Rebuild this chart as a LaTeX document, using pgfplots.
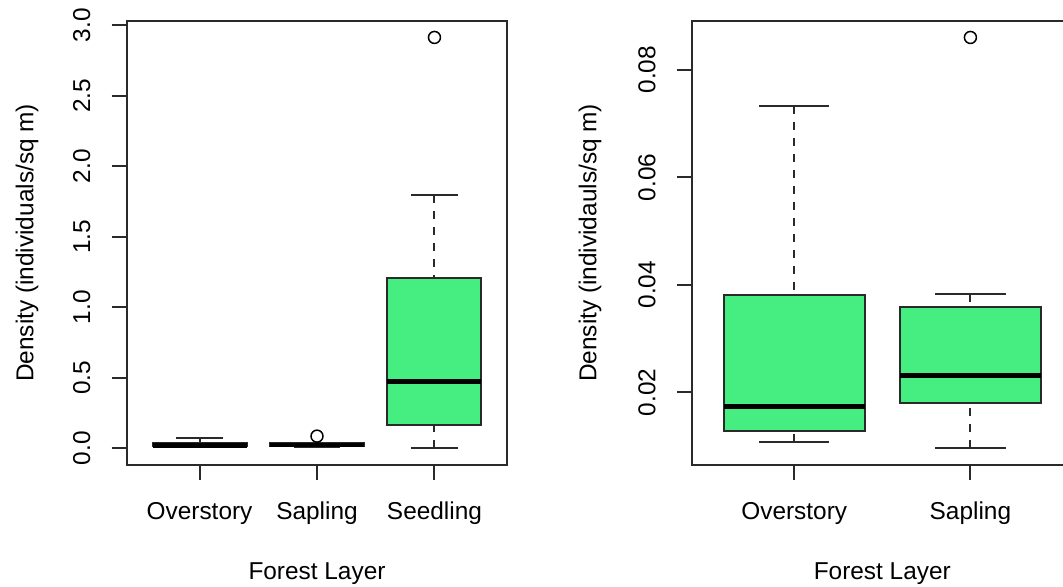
\documentclass[border=0pt]{standalone}
\usepackage{fontspec}
\setmainfont{Liberation Sans}
\usepackage{pgfplots}
\pgfplotsset{compat=1.18}
\usepgfplotslibrary{statistics}
\definecolor{rgreen}{HTML}{46EE82}
\definecolor{rline}{HTML}{2A2A2A}
\newcommand{\fs}{\fontsize{12.2pt}{14pt}\selectfont}

\pgfplotsset{
  rplot/.style={
    scale only axis, width=190.3pt, height=221.85pt,
    scaled ticks=false,
    axis line style={line width=1pt, rline},
    tick align=outside, tick pos=left, major tick length=7.5pt,
    every tick/.style={line width=1pt, rline},
    xticklabel style={font=\fs, anchor=base, inner sep=0pt, yshift=-20pt},
    yticklabel style={font=\fs, rotate=90, anchor=south, inner sep=0pt},
    yticklabel shift=10.5pt,
    label style={font=\fs, inner sep=0pt},
    xlabel style={at={(axis description cs:0.5,-0.2592)}, anchor=base},
    boxplot/draw direction=y,
  },
  rbox/.style={
    boxplot/draw direction=y,
    boxplot prepared={#1, box extend=0.8, whisker extend=0.4},
    draw=rline, line width=1pt, solid,
    mark=o, mark size=3pt,
    mark options={solid, line width=0.75pt, draw=black, fill=none},
    boxplot/every box/.style={fill=rgreen, draw=rline, line width=1pt},
    boxplot/every median/.style={line width=2.4pt, draw=black},
    boxplot/draw/lower whisker/.code={%
      \draw[rline, line width=1pt, dash pattern=on 4pt off 4pt]
        (boxplot cs:\pgfplotsboxplotvalue{lower whisker}) -- (boxplot cs:\pgfplotsboxplotvalue{lower quartile});
      \draw[rline, line width=1pt]
        (boxplot whisker cs:\pgfplotsboxplotvalue{lower whisker},0) -- (boxplot whisker cs:\pgfplotsboxplotvalue{lower whisker},1);
    },
    boxplot/draw/upper whisker/.code={%
      \draw[rline, line width=1pt, dash pattern=on 4pt off 4pt]
        (boxplot cs:\pgfplotsboxplotvalue{upper whisker}) -- (boxplot cs:\pgfplotsboxplotvalue{upper quartile});
      \draw[rline, line width=1pt]
        (boxplot whisker cs:\pgfplotsboxplotvalue{upper whisker},0) -- (boxplot whisker cs:\pgfplotsboxplotvalue{upper whisker},1);
    },
  },
}

\begin{document}
\begin{tikzpicture}
\useasboundingbox (0,0) rectangle (531.5pt,293pt);

\begin{axis}[rplot,
  at={(63.35pt,60.65pt)}, anchor=south west,
  xmin=0.38, xmax=3.62, ymin=-0.1166, ymax=3.0295,
  xtick={1,2,3}, xticklabels={Overstory,Sapling,Seedling},
  ytick={0,0.5,1,1.5,2,2.5,3},
  yticklabels={0.0,0.5,1.0,1.5,2.0,2.5,3.0},
  xlabel={Forest Layer},
  ylabel={Density (individuals/sq m)},
  ylabel style={at={(axis description cs:-0.2454,0.5)}, anchor=base},
]
\addplot[rbox={draw position=1, lower whisker=0.0108, lower quartile=0.0129,
  median=0.0173, upper quartile=0.0381, upper whisker=0.0732}]
  coordinates {};
\addplot[rbox={draw position=2, lower whisker=0.0096, lower quartile=0.0180,
  median=0.0232, upper quartile=0.0358, upper whisker=0.0382}]
  table[row sep=\\, y index=0] {v\\ 0.0860\\};
\addplot[rbox={draw position=3, lower whisker=0.0, lower quartile=0.165,
  median=0.473, upper quartile=1.208, upper whisker=1.794}]
  table[row sep=\\, y index=0] {v\\ 2.913\\};
\end{axis}

\begin{axis}[rplot,
  at={(346pt,60.65pt)}, anchor=south west,
  xmin=0.42, xmax=2.58, ymin=0.00654, ymax=0.08906,
  xtick={1,2}, xticklabels={Overstory,Sapling},
  ytick={0.02,0.04,0.06,0.08},
  yticklabels={0.02,0.04,0.06,0.08},
  xlabel={Forest Layer},
  ylabel={Density (individauls/sq m)},
  ylabel style={at={(axis description cs:-0.2514,0.5)}, anchor=base},
]
\addplot[rbox={draw position=1, lower whisker=0.0108, lower quartile=0.0129,
  median=0.0173, upper quartile=0.0381, upper whisker=0.0732}]
  coordinates {};
\addplot[rbox={draw position=2, lower whisker=0.0096, lower quartile=0.0180,
  median=0.0232, upper quartile=0.0358, upper whisker=0.0382}]
  table[row sep=\\, y index=0] {v\\ 0.0860\\};
\end{axis}
\end{tikzpicture}
\end{document}
